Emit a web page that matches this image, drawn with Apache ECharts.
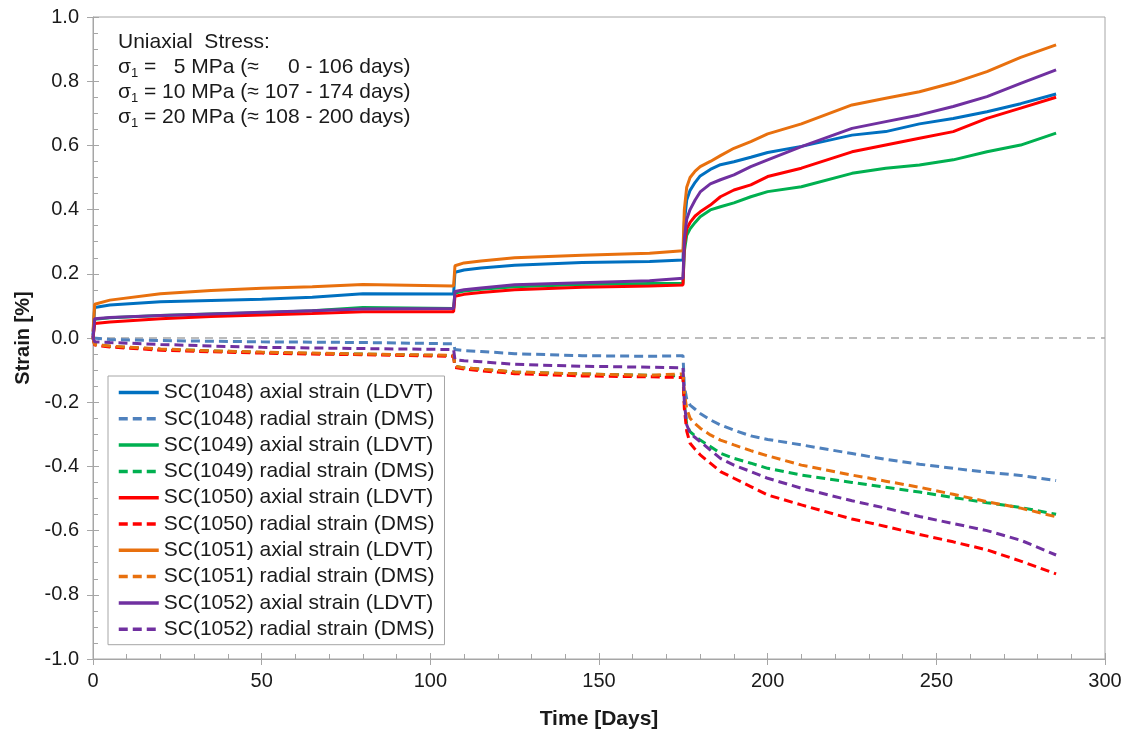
<!DOCTYPE html>
<html>
<head>
<meta charset="utf-8">
<script src="https://cdn.jsdelivr.net/npm/echarts@6.0.0/dist/echarts.min.js"></script>
<style>
  html, body { margin: 0; padding: 0; background: #fff; }
  #chart { width: 1132px; height: 738px; }
</style>
</head>
<body>
<div id="chart"></div>
<script>
// time in days, shared by every curve
const days = [0, 0.5, 5, 20, 35, 50, 65, 80, 106.9, 107.3, 110, 115, 125, 145, 165, 174.9,
  175.3, 176, 177, 178.5, 180, 183, 186, 190, 195, 200, 210, 225, 235, 245, 255, 265, 275, 285.5];

// axial strain (LDVT) [%]
const ax1048 = [0.01, 0.095, 0.103, 0.113, 0.117, 0.121, 0.127, 0.138, 0.137, 0.205, 0.212, 0.218, 0.227, 0.235, 0.238, 0.243,
  0.36, 0.43, 0.46, 0.485, 0.505, 0.525, 0.540, 0.549, 0.563, 0.578, 0.597, 0.632, 0.643, 0.667, 0.684, 0.705, 0.730, 0.760];
const ax1049 = [0, 0.058, 0.063, 0.070, 0.075, 0.079, 0.085, 0.095, 0.092, 0.140, 0.146, 0.152, 0.160, 0.167, 0.170, 0.170,
  0.27, 0.32, 0.34, 0.36, 0.378, 0.399, 0.409, 0.421, 0.440, 0.456, 0.471, 0.513, 0.529, 0.539, 0.555, 0.580, 0.601, 0.638];
const ax1050 = [0, 0.045, 0.050, 0.060, 0.067, 0.072, 0.076, 0.082, 0.082, 0.130, 0.136, 0.142, 0.150, 0.158, 0.162, 0.165,
  0.29, 0.34, 0.36, 0.38, 0.393, 0.414, 0.440, 0.461, 0.477, 0.503, 0.529, 0.580, 0.601, 0.622, 0.643, 0.684, 0.716, 0.750];
const ax1051 = [0.02, 0.105, 0.118, 0.138, 0.148, 0.155, 0.160, 0.167, 0.162, 0.225, 0.234, 0.240, 0.250, 0.258, 0.264, 0.272,
  0.40, 0.47, 0.50, 0.52, 0.534, 0.550, 0.568, 0.591, 0.612, 0.636, 0.667, 0.726, 0.747, 0.767, 0.795, 0.830, 0.874, 0.913];
const ax1052 = [0, 0.060, 0.064, 0.070, 0.075, 0.080, 0.085, 0.090, 0.092, 0.145, 0.150, 0.156, 0.166, 0.172, 0.178, 0.186,
  0.31, 0.37, 0.40, 0.43, 0.455, 0.480, 0.493, 0.508, 0.534, 0.555, 0.596, 0.653, 0.674, 0.695, 0.721, 0.752, 0.793, 0.835];

// radial strain (DMS) [%]
const rad1048 = [0, -0.003, -0.005, -0.008, -0.010, -0.012, -0.013, -0.014, -0.018, -0.036, -0.039, -0.042, -0.049, -0.055, -0.057, -0.055,
  -0.15, -0.19, -0.209, -0.222, -0.235, -0.255, -0.271, -0.287, -0.305, -0.316, -0.333, -0.360, -0.378, -0.393, -0.406, -0.418, -0.428, -0.444];
const rad1049 = [0, -0.020, -0.026, -0.035, -0.040, -0.045, -0.048, -0.050, -0.055, -0.088, -0.093, -0.097, -0.106, -0.112, -0.116, -0.118,
  -0.20, -0.27, -0.292, -0.305, -0.318, -0.338, -0.359, -0.375, -0.390, -0.406, -0.427, -0.450, -0.465, -0.480, -0.497, -0.513, -0.528, -0.549];
const rad1050 = [0, -0.022, -0.028, -0.038, -0.043, -0.047, -0.050, -0.052, -0.057, -0.092, -0.097, -0.102, -0.111, -0.118, -0.121, -0.123,
  -0.22, -0.29, -0.328, -0.347, -0.364, -0.390, -0.416, -0.437, -0.463, -0.489, -0.520, -0.564, -0.587, -0.612, -0.635, -0.660, -0.695, -0.735];
const rad1051 = [0, -0.020, -0.025, -0.034, -0.040, -0.044, -0.047, -0.050, -0.054, -0.088, -0.093, -0.097, -0.106, -0.112, -0.116, -0.112,
  -0.17, -0.22, -0.250, -0.267, -0.281, -0.302, -0.318, -0.333, -0.351, -0.367, -0.396, -0.427, -0.446, -0.465, -0.487, -0.510, -0.530, -0.557];
const rad1052 = [0, -0.012, -0.014, -0.020, -0.025, -0.029, -0.031, -0.033, -0.036, -0.068, -0.071, -0.074, -0.082, -0.088, -0.091, -0.093,
  -0.20, -0.27, -0.297, -0.310, -0.323, -0.349, -0.375, -0.396, -0.416, -0.437, -0.468, -0.507, -0.530, -0.556, -0.578, -0.600, -0.630, -0.676];

const seriesNames = [
  "SC(1048) axial strain (LDVT)", "SC(1048) radial strain (DMS)",
  "SC(1049) axial strain (LDVT)", "SC(1049) radial strain (DMS)",
  "SC(1050) axial strain (LDVT)", "SC(1050) radial strain (DMS)",
  "SC(1051) axial strain (LDVT)", "SC(1051) radial strain (DMS)",
  "SC(1052) axial strain (LDVT)", "SC(1052) radial strain (DMS)",
];
const seriesValues = [ax1048, rad1048, ax1049, rad1049, ax1050, rad1050, ax1051, rad1051, ax1052, rad1052];
const seriesColors = ["#0070C0", "#4F81BD", "#00B050", "#00B050", "#FF0000", "#FF0000", "#E8700E", "#E8700E", "#7030A0", "#7030A0"];

const FONT = "'Liberation Sans', Arial, sans-serif";
const TEXT = "#1a1a1a";
const AXIS = "#a6a6a6";

const chart = echarts.init(document.getElementById("chart"));

const series = seriesNames.map((name, k) => {
  const dashed = k % 2 === 1;
  const s = {
    name,
    type: "line",
    symbol: "none",
    showSymbol: false,
    data: days.map((d, i) => [d, seriesValues[k][i]]),
    lineStyle: { width: 3, color: seriesColors[k], type: dashed ? [9, 5] : "solid" },
    itemStyle: { color: seriesColors[k] },
    z: 3 + k,
  };
  if (k === 0) {
    // dashed zero line
    s.markLine = {
      silent: true,
      symbol: "none",
      label: { show: false },
      lineStyle: { color: "#a6a6a6", type: [8, 6], width: 1.5 },
      data: [{ yAxis: 0 }],
      z: 1,
    };
  }
  return s;
});

chart.setOption({
  animation: false,
  textStyle: { fontFamily: FONT },
  grid: {
    left: 93, right: 27, top: 17, bottom: 79,
    show: true, borderColor: AXIS, borderWidth: 1, backgroundColor: "transparent",
  },
  legend: {
    orient: "vertical",
    left: 108, top: 376,
    padding: [6, 10, 5, 9],
    itemWidth: 40, itemHeight: 18, itemGap: 5.3,
    itemStyle: { opacity: 0 },
    lineStyle: { width: 3.5 },
    backgroundColor: "#fff",
    borderColor: AXIS, borderWidth: 1,
    textStyle: { fontSize: 21, lineHeight: 18, color: TEXT, fontFamily: FONT },
    data: seriesNames,
  },
  graphic: [{
    type: "text",
    left: 118, top: 32,
    z: 100,
    style: {
      text: [
        "{a|Uniaxial  Stress:}",
        "{a|σ}{s|1}{a| =   5 MPa (≈     0 - 106 days)}",
        "{a|σ}{s|1}{a| = 10 MPa (≈ 107 - 174 days)}",
        "{a|σ}{s|1}{a| = 20 MPa (≈ 108 - 200 days)}",
      ].join("\n"),
      rich: {
        a: { fontSize: 21, fontFamily: FONT, fill: TEXT, lineHeight: 25 },
        s: { fontSize: 13, fontFamily: FONT, fill: TEXT, lineHeight: 15, verticalAlign: "bottom" },
      },
    },
  }],
  xAxis: [
    {
      type: "value", min: 0, max: 300, interval: 50, position: "bottom",
      name: "Time [Days]", nameLocation: "middle", nameGap: 50,
      nameTextStyle: { fontSize: 21, fontWeight: "bold", color: TEXT, fontFamily: FONT },
      axisLine: { show: true, onZero: false, lineStyle: { color: AXIS, width: 1 } },
      axisTick: { show: true, inside: false, length: 6, lineStyle: { color: AXIS } },
      axisLabel: { fontSize: 20, color: TEXT, margin: 12, fontFamily: FONT },
      splitLine: { show: false },
    },
    {
      type: "value", min: 0, max: 300, interval: 50, position: "bottom",
      axisLine: { show: false, onZero: false },
      axisTick: { show: true, inside: true, length: 6, lineStyle: { color: AXIS } },
      minorTick: { show: true, splitNumber: 5, length: 5, lineStyle: { color: AXIS } },
      axisLabel: { show: false },
      splitLine: { show: false },
    },
  ],
  yAxis: [
    {
      type: "value", min: -1, max: 1, interval: 0.2, position: "left",
      name: "Strain [%]", nameLocation: "middle", nameGap: 58,
      nameTextStyle: { fontSize: 20, fontWeight: "bold", color: TEXT, fontFamily: FONT },
      axisLine: { show: true, onZero: false, lineStyle: { color: AXIS, width: 1 } },
      axisTick: { show: true, inside: false, length: 6, lineStyle: { color: AXIS } },
      axisLabel: { fontSize: 20, color: TEXT, margin: 14, fontFamily: FONT, formatter: (v) => v.toFixed(1) },
      splitLine: { show: false },
    },
    {
      type: "value", min: -1, max: 1, interval: 0.2, position: "left",
      axisLine: { show: false, onZero: false },
      axisTick: { show: true, inside: true, length: 6, lineStyle: { color: AXIS } },
      minorTick: { show: true, splitNumber: 4, length: 5, lineStyle: { color: AXIS } },
      axisLabel: { show: false },
      splitLine: { show: false },
    },
  ],
  series,
});
</script>
</body>
</html>
